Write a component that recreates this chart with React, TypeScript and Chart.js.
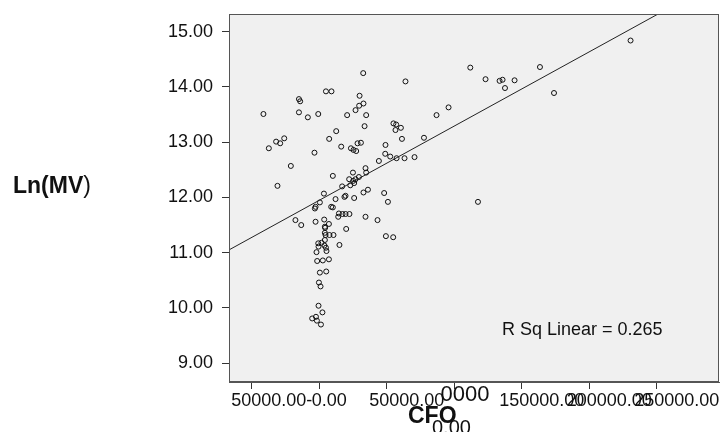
import React, { useEffect, useRef } from "react";
import { Chart, registerables } from "chart.js";

Chart.register(...registerables);

// CFO (x) values
const CFO = [
  63900, 5000, 9100, 29900, -15000, -14100, 32800, 29600, 26900, -15000,
  -700, -8400, 20700, 34800, 95800, 86900, 33600, 55000, 57000, 60500,
  56500, 12600, -25900, -28900, 7400, 61300, 77600, 28400, 30900, 16300,
  23500, 25400, 27400, -3500, 49100, 48900, 52600, 57300, 63200, 70600,
  44200, -21000, 34300, 34800, 25000, 10100, 29400, 26900, 25200, 22200,
  17000, 23000, 25900, 36100, 32800, 3500, 48100, 50900, 117600, 19500,
  18700, 12100, 25900, 500, -2700, -3200, 8900, 10100, 14600, 17300,
  19500, 22400, 14100, -17600, -13300, -2700, 3700, 7200, 4200, 4400,
  34300, 43200, 20000, 4200, 4700, 7600, 10600, 49400, 54800, 4200,
  1700, -700, -500, 3900, 5000, 15000, -2000, 5400, -1500, 2700,
  7200, 500, 5200, -200, 1000, -500, 2400, -2400, -5200, -1700,
  1300, -41300, -31900, -37300, -30900, 230600, 111900, 123200, 133600, 135800,
  137600, 144700, 163500, 173900, 32600,
];

// Ln(MV) (y) values
const LN_MV = [
  14.10, 13.92, 13.92, 13.84, 13.78, 13.74, 13.70, 13.66, 13.58, 13.54,
  13.51, 13.45, 13.49, 13.49, 13.63, 13.49, 13.29, 13.34, 13.32, 13.26,
  13.22, 13.20, 13.07, 12.98, 13.06, 13.06, 13.08, 12.98, 12.99, 12.92,
  12.89, 12.86, 12.84, 12.81, 12.95, 12.79, 12.74, 12.71, 12.71, 12.73,
  12.66, 12.57, 12.53, 12.45, 12.45, 12.39, 12.37, 12.33, 12.30, 12.33,
  12.20, 12.22, 12.26, 12.14, 12.09, 12.07, 12.08, 11.92, 11.92, 12.03,
  12.01, 11.97, 11.99, 11.91, 11.83, 11.80, 11.83, 11.82, 11.71, 11.70,
  11.70, 11.70, 11.65, 11.59, 11.50, 11.56, 11.60, 11.52, 11.47, 11.45,
  11.65, 11.59, 11.43, 11.36, 11.32, 11.32, 11.32, 11.30, 11.28, 11.23,
  11.18, 11.17, 11.11, 11.13, 11.09, 11.14, 11.01, 11.03, 10.85, 10.86,
  10.88, 10.64, 10.66, 10.46, 10.39, 10.04, 9.92, 9.84, 9.81, 9.77,
  9.70, 13.51, 13.01, 12.89, 12.21, 14.84, 14.35, 14.14, 14.11, 14.13,
  13.98, 14.12, 14.36, 13.89, 14.25,
];

const X_TICK_VALUES = [-50000, 0, 50000, 100000, 150000, 200000, 250000];
const X_TICK_LABELS = ["50000.00-", "0.00    ", "50000.00", "0000   ", "150000.00", "200000.00", "250000.00"];
const Y_TICK_VALUES = [9, 10, 11, 12, 13, 14, 15];
const Y_TICK_LABELS = ["9.00", "10.00", "11.00", "12.00", "13.00", "14.00", "15.00"];

const X_MIN = -66800;
const X_MAX = 296100;
const Y_MIN = 8.66;
const Y_MAX = 15.32;

const REG_INTERCEPT = 11.948;
const REG_SLOPE = 1.3435e-5;
const R_SQ_TEXT = "R Sq Linear = 0.265";

const FONT = "'Liberation Sans', Arial, sans-serif";
const PLOT_RIGHT_GAP = 3;

const decorPlugin = {
  id: "decor",
  afterLayout(chart: any) {
    const x = chart.scales.x;
    const target = chart.width - PLOT_RIGHT_GAP;
    if (x && x.right !== target) {
      x.right = target;
      x.width = target - x.left;
      x.configure();
      chart.chartArea.right = target;
      chart.chartArea.width = target - chart.chartArea.left;
    }
  },
  beforeDraw(chart: any) {
    const { ctx, chartArea } = chart;
    ctx.save();
    ctx.fillStyle = "#f0f0f0";
    ctx.fillRect(chartArea.left, chartArea.top, chartArea.right - chartArea.left, chartArea.bottom - chartArea.top);
    ctx.restore();
  },
  afterDraw(chart: any) {
    const { ctx, chartArea } = chart;
    ctx.save();
    ctx.strokeStyle = "#555";
    ctx.lineWidth = 1;
    ctx.strokeRect(chartArea.left + 0.5, chartArea.top + 0.5, chartArea.right - chartArea.left - 1, chartArea.bottom - chartArea.top - 1);

    ctx.fillStyle = "#111";
    ctx.textBaseline = "alphabetic";
    ctx.textAlign = "left";
    // R squared annotation
    ctx.font = `18px ${FONT}`;
    ctx.fillText(R_SQ_TEXT, 502, 335);

    // y axis title
    ctx.font = `bold 23px ${FONT}`;
    const part = "Ln(MV";
    ctx.fillText(part, 13, 193);
    const w = ctx.measureText(part).width;
    ctx.font = `23px ${FONT}`;
    ctx.fillText(")", 13 + w, 193);

    // stray label piece under the axis title
    ctx.font = `20px ${FONT}`;
    ctx.fillText("0.00", 432, 434);

    // x axis title
    ctx.font = `bold 23px ${FONT}`;
    ctx.fillText("CFO", 408, 423);
    ctx.restore();
  },
};

export default function App() {
  const ref = useRef<HTMLCanvasElement | null>(null);

  useEffect(() => {
    if (!ref.current) return;
    const points = CFO.map((x, i) => ({ x, y: LN_MV[i] }));
    const lineData = [
      { x: X_MIN, y: REG_INTERCEPT + REG_SLOPE * X_MIN },
      { x: X_MAX, y: REG_INTERCEPT + REG_SLOPE * X_MAX },
    ];
    const chart = new Chart(ref.current, {
      type: "scatter",
      data: {
        datasets: [
          {
            type: "line",
            data: lineData,
            borderColor: "#222",
            borderWidth: 1,
            pointRadius: 0,
            fill: false,
          } as any,
          {
            type: "scatter",
            data: points,
            pointRadius: 2.5,
            borderWidth: 1,
            borderColor: "#111",
            backgroundColor: "rgba(0,0,0,0)",
          },
        ],
      },
      options: {
        animation: false,
        responsive: false,
        events: [],
        layout: { padding: { left: 0, right: 0, top: 14, bottom: 0 } },
        plugins: { legend: { display: false }, tooltip: { enabled: false } },
        scales: {
          x: {
            type: "linear",
            min: X_MIN,
            max: X_MAX,
            afterBuildTicks: (scale: any) => {
              scale.ticks = X_TICK_VALUES.map((v) => ({ value: v }));
            },
            afterFit: (scale: any) => {
              scale.height = 50;
              scale.paddingLeft = 0;
              scale.paddingRight = 0;
            },
            grid: { drawOnChartArea: false, drawTicks: true, tickLength: 7, color: "#333" },
            border: { display: true, color: "#555" },
            ticks: {
              autoSkip: false,
              maxRotation: 0,
              minRotation: 0,
              padding: 1,
              labelOffset: 20,
              color: "#111",
              callback: (_v: any, i: number) => X_TICK_LABELS[i],
              font: (c: any) =>
                c.index === 3
                  ? { family: FONT, size: 22, lineHeight: "10px" }
                  : { family: FONT, size: 18 },
            },
          },
          y: {
            type: "linear",
            min: Y_MIN,
            max: Y_MAX,
            afterBuildTicks: (scale: any) => {
              scale.ticks = Y_TICK_VALUES.map((v) => ({ value: v }));
            },
            afterFit: (scale: any) => {
              scale.width = 229;
              scale.paddingTop = 0;
              scale.paddingBottom = 0;
            },
            grid: { drawOnChartArea: false, drawTicks: true, tickLength: 7, color: "#333" },
            border: { display: true, color: "#555" },
            ticks: {
              padding: 9,
              color: "#111",
              callback: (_v: any, i: number) => Y_TICK_LABELS[i],
              font: { family: FONT, size: 18 },
            },
          },
        },
      },
      plugins: [decorPlugin],
    });
    return () => chart.destroy();
  }, []);

  return (
    <div style={{ position: "fixed", left: 0, top: 0, width: 722, height: 432, background: "#fff" }}>
      <canvas ref={ref} width={722} height={432} style={{ width: 722, height: 432, display: "block" }} />
    </div>
  );
}
